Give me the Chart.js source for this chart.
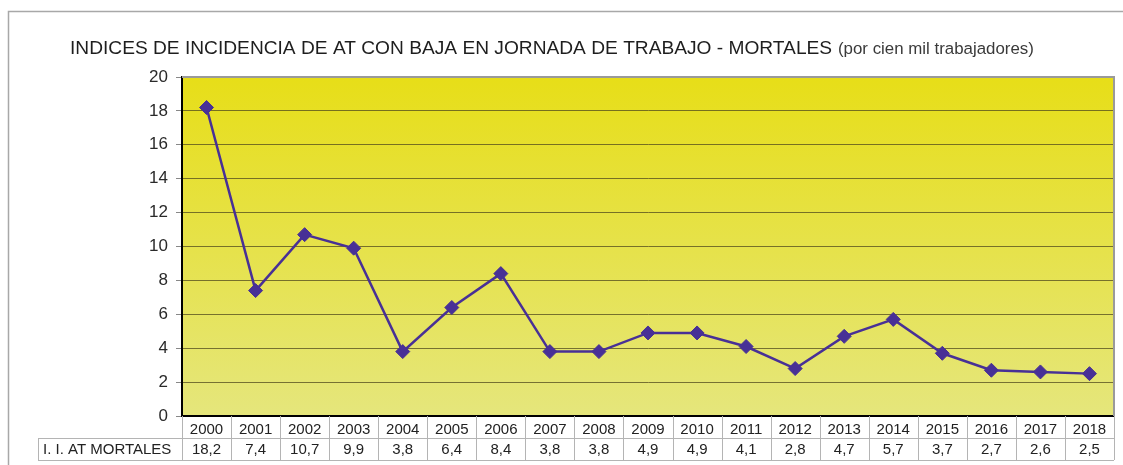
<!DOCTYPE html>
<html>
<head>
<meta charset="utf-8">
<script src="https://cdn.jsdelivr.net/npm/chart.js@4/dist/chart.umd.min.js"></script>
<style>
  html, body { margin: 0; padding: 0; background: #ffffff; }
  #wrap { width: 1123px; height: 465px; position: relative; }
</style>
</head>
<body>
<div id="wrap"><canvas id="c" width="1123" height="465"></canvas></div>
<script>
const years = ['2000','2001','2002','2003','2004','2005','2006','2007','2008','2009','2010','2011','2012','2013','2014','2015','2016','2017','2018'];
const mortales = [18.2, 7.4, 10.7, 9.9, 3.8, 6.4, 8.4, 3.8, 3.8, 4.9, 4.9, 4.1, 2.8, 4.7, 5.7, 3.7, 2.7, 2.6, 2.5];
const seriesName = 'I. I. AT MORTALES';
const titleMain = 'INDICES DE INCIDENCIA DE AT CON BAJA EN JORNADA DE TRABAJO - MORTALES';
const titleSub = '(por cien mil trabajadores)';
const yTicksMax = 20;
const yStep = 2;

const FONT = '"Liberation Sans", Arial, sans-serif';

const framePlugin = {
  id: 'framePlugin',
  beforeDraw(chart) {
    const ctx = chart.ctx;
    const a = chart.chartArea;
    ctx.save();
    ctx.fillStyle = '#ffffff';
    ctx.fillRect(0, 0, chart.width, chart.height);
    // outer frame
    ctx.strokeStyle = '#a8a8a8';
    ctx.lineWidth = 1.5;
    ctx.beginPath();
    ctx.moveTo(8.5, chart.height);
    ctx.lineTo(8.5, 11.5);
    ctx.lineTo(chart.width, 11.5);
    ctx.stroke();
    // plot gradient
    const g = ctx.createLinearGradient(0, a.top, 0, a.bottom);
    g.addColorStop(0, 'rgb(231,222,24)');
    g.addColorStop(1, 'rgb(229,230,124)');
    ctx.fillStyle = g;
    ctx.fillRect(a.left, a.top, a.right - a.left, a.bottom - a.top);
    ctx.restore();
  },
  beforeDatasetsDraw(chart) {
    const ctx = chart.ctx;
    const a = chart.chartArea;
    ctx.save();
    ctx.strokeStyle = '#9a9a9a';
    ctx.lineWidth = 2;
    ctx.beginPath();
    ctx.moveTo(a.left, a.top);
    ctx.lineTo(a.right, a.top);
    ctx.lineTo(a.right, a.bottom);
    ctx.stroke();
    ctx.restore();
  },
  afterDraw(chart) {
    const ctx = chart.ctx;
    const a = chart.chartArea;
    const xs = chart.scales.x;
    ctx.save();
    // Title
    ctx.textBaseline = 'alphabetic';
    ctx.textAlign = 'left';
    ctx.fillStyle = '#1e1e1e';
    let fs = 18;
    ctx.font = fs + 'px ' + FONT;
    fs = fs * 763 / ctx.measureText(titleMain).width;
    ctx.font = fs + 'px ' + FONT;
    ctx.fillText(titleMain, 70, 54);
    let fs2 = 14;
    ctx.font = fs2 + 'px ' + FONT;
    fs2 = fs2 * 196 / ctx.measureText(titleSub).width;
    ctx.font = fs2 + 'px ' + FONT;
    ctx.fillStyle = '#3a3a3a';
    ctx.fillText(titleSub, 838, 54);

    // Data table
    const n = years.length;
    const colW = (a.right - a.left) / n;
    const r1 = a.bottom, r2 = a.bottom + 22, r3 = a.bottom + 44;
    const tblLeft = 38;
    ctx.strokeStyle = '#b4b4b4';
    ctx.lineWidth = 1;
    ctx.beginPath();
    ctx.moveTo(tblLeft, r2 + 0.5); ctx.lineTo(a.right, r2 + 0.5);
    ctx.moveTo(tblLeft, r3 + 0.5); ctx.lineTo(a.right, r3 + 0.5);
    for (let i = 0; i <= n; i++) {
      const px = Math.round(xs.getPixelForValue(i) - colW / 2) + 0.5;
      ctx.moveTo(px, r1); ctx.lineTo(px, r3);
    }
    ctx.moveTo(tblLeft + 0.5, r2); ctx.lineTo(tblLeft + 0.5, r3);
    ctx.stroke();

    ctx.fillStyle = '#222222';
    ctx.font = '15px ' + FONT;
    ctx.textBaseline = 'middle';
    ctx.textAlign = 'left';
    ctx.fillText(seriesName, tblLeft + 5, r2 + 12);
    ctx.textAlign = 'center';
    for (let i = 0; i < n; i++) {
      const px = xs.getPixelForValue(i);
      ctx.fillText(mortales[i].toFixed(1).replace('.', ','), px, r2 + 12);
    }
    ctx.restore();
  }
};

const ctx = document.getElementById('c').getContext('2d');
new Chart(ctx, {
  type: 'line',
  data: {
    labels: years,
    datasets: [{
      label: seriesName,
      data: mortales,
      borderColor: 'rgb(72,48,150)',
      backgroundColor: 'rgb(72,48,150)',
      borderWidth: 2.5,
      pointStyle: 'rectRot',
      pointRadius: 7,
      pointHoverRadius: 7,
      pointBorderWidth: 1,
      tension: 0,
      fill: false
    }]
  },
  options: {
    responsive: false,
    animation: false,
    devicePixelRatio: 1,
    layout: { padding: { top: 77, right: 9, bottom: 0, left: 0 } },
    plugins: {
      legend: { display: false },
      title: { display: false },
      tooltip: { enabled: false }
    },
    scales: {
      x: {
        type: 'category',
        offset: true,
        grid: { display: false, drawTicks: false },
        border: { display: true, color: '#000000', width: 2 },
        ticks: {
          color: '#222222',
          font: { size: 15, family: FONT },
          padding: 5,
          maxRotation: 0,
          autoSkip: false
        },
        afterFit(scale) { scale.height = 49; }
      },
      y: {
        min: 0,
        max: yTicksMax,
        ticks: {
          stepSize: yStep,
          color: '#2a2a2a',
          font: { size: 17, family: FONT },
          padding: 8
        },
        grid: {
          color: 'rgba(80,74,30,0.75)',
          lineWidth: 1,
          drawTicks: true,
          tickLength: 6,
          tickColor: '#888888'
        },
        border: { display: true, color: '#000000', width: 2 },
        afterFit(scale) { scale.width = 182; }
      }
    }
  },
  plugins: [framePlugin]
});
</script>
</body>
</html>
